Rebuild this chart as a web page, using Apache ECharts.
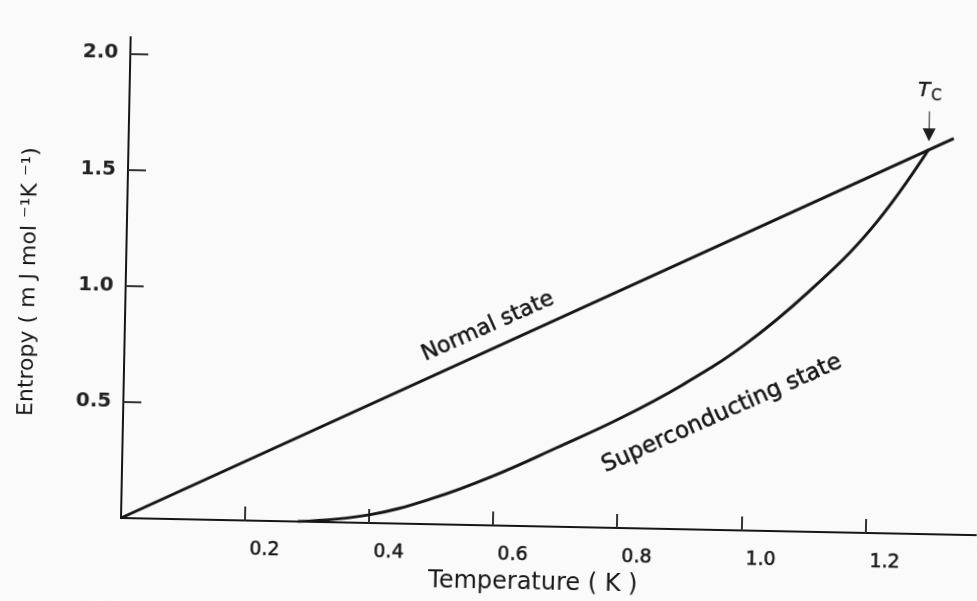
<!DOCTYPE html>
<html>
<head>
<meta charset="utf-8">
<script src="https://cdn.jsdelivr.net/npm/echarts@6/dist/echarts.min.js"></script>
<style>
  html, body { margin: 0; padding: 0; background: #fafafa; overflow: hidden; }
  #chart {
    width: 977px; height: 601px;
    /* the printed figure sits slightly tilted on the page */
    transform: rotate(1.15deg);
    transform-origin: 121px 518px;
  }
</style>
</head>
<body>
<div id="chart"></div>
<script>
// Temperature axis ticks (K) and entropy axis ticks (mJ mol^-1 K^-1)
const temperatureTicks = [0.2, 0.4, 0.6, 0.8, 1.0, 1.2];
const entropyTicks = [0.5, 1.0, 1.5, 2.0];

// Normal state: entropy rises linearly with temperature
const normalT = [0, 1.33];
const normalS = [0, 1.705];

// Superconducting state: entropy stays low, then climbs to meet the normal line at Tc
const superT = [0.285, 0.40, 0.50, 0.60, 0.70, 0.80, 0.90, 1.00, 1.10, 1.20, 1.29];
const superS = [0.0, 0.035, 0.11, 0.215, 0.34, 0.47, 0.62, 0.80, 1.03, 1.31, 1.656];

// Critical temperature point
const tcT = 1.29;
const tcS = 1.656;

const zip = (xs, ys) => xs.map((x, i) => [x, ys[i]]);
const ink = '#161616';
const font = 'DejaVu Sans';

const chart = echarts.init(document.getElementById('chart'));
chart.setOption({
  backgroundColor: '#fafafa',
  animation: false,
  grid: { left: 121, top: 37, width: 863, height: 481 },
  xAxis: {
    type: 'value', min: 0, max: 1.38,
    name: 'Temperature ( K )',
    nameLocation: 'middle', nameGap: 45,
    nameTextStyle: { fontFamily: font, fontSize: 24, color: ink, padding: [0, 30, 0, 0] },
    axisLine: { show: true, lineStyle: { color: ink, width: 2 } },
    axisTick: { show: true, inside: true, length: 14, customValues: temperatureTicks,
                lineStyle: { color: '#333', width: 2 } },
    axisLabel: { show: true, customValues: temperatureTicks, margin: 20,
                 fontFamily: font, fontSize: 19, color: ink,
                 textBorderColor: ink, textBorderWidth: 0.5,
                 padding: [0, 0, 0, 40],
                 formatter: v => v.toFixed(1) },
    splitLine: { show: false }
  },
  yAxis: {
    type: 'value', min: 0, max: 2.07,
    name: 'Entropy ( m J mol \u207B\u00B9K \u207B\u00B9)',
    nameLocation: 'middle', nameGap: 86, nameRotate: 90,
    nameTextStyle: { fontFamily: font, fontSize: 22, color: ink, padding: [0, 12, 0, 0] },
    axisLine: { show: true, lineStyle: { color: ink, width: 2 } },
    axisTick: { show: true, inside: true, length: 18, customValues: entropyTicks,
                lineStyle: { color: '#333', width: 2 } },
    axisLabel: { show: true, customValues: entropyTicks, margin: 12,
                 fontFamily: font, fontSize: 20, fontWeight: 'bold', color: '#222',
                 formatter: v => v.toFixed(1) },
    splitLine: { show: false }
  },
  series: [
    {
      name: 'Normal state',
      type: 'line',
      data: zip(normalT, normalS),
      showSymbol: false,
      lineStyle: { color: ink, width: 3 },
      markPoint: {
        silent: true,
        data: [
          {
            name: 'label',
            coord: [0.585, 0.855],
            symbol: 'circle', symbolSize: 0,
            label: { show: true, position: 'inside', rotate: 25.2,
                     formatter: 'Normal state',
                     fontFamily: font, fontSize: 22, color: ink,
                     textBorderColor: ink, textBorderWidth: 0.5 }
          },
          {
            name: 'Tc',
            coord: [tcT, tcS],
            symbol: 'path://M-0.5,0 L0.5,0 L0.5,17 L6.5,17 L0,30 L-6.5,17 L-0.5,17 Z',
            symbolSize: [13, 30],
            symbolOffset: [0, -23],
            itemStyle: { color: '#1e1e1e' },
            label: {
              show: true, position: 'top', distance: 8,
              formatter: '{t|T}{c|C}',
              rich: {
                t: { fontFamily: font, fontStyle: 'italic', fontSize: 20, color: ink,
                     textBorderColor: ink, textBorderWidth: 0.4 },
                c: { fontFamily: font, fontSize: 15, color: ink, padding: [10, 0, 0, 1],
                     textBorderColor: ink, textBorderWidth: 0.3 }
              }
            }
          }
        ]
      }
    },
    {
      name: 'Superconducting state',
      type: 'line',
      data: zip(superT, superS),
      smooth: 0.4,
      showSymbol: false,
      lineStyle: { color: ink, width: 3 },
      markPoint: {
        silent: true,
        data: [
          {
            coord: [0.965, 0.5],
            symbol: 'circle', symbolSize: 0,
            label: { show: true, position: 'inside', rotate: 25.2,
                     formatter: 'Superconducting state',
                     fontFamily: font, fontSize: 23, color: ink,
                     textBorderColor: ink, textBorderWidth: 0.5 }
          }
        ]
      }
    }
  ]
});
</script>
</body>
</html>
